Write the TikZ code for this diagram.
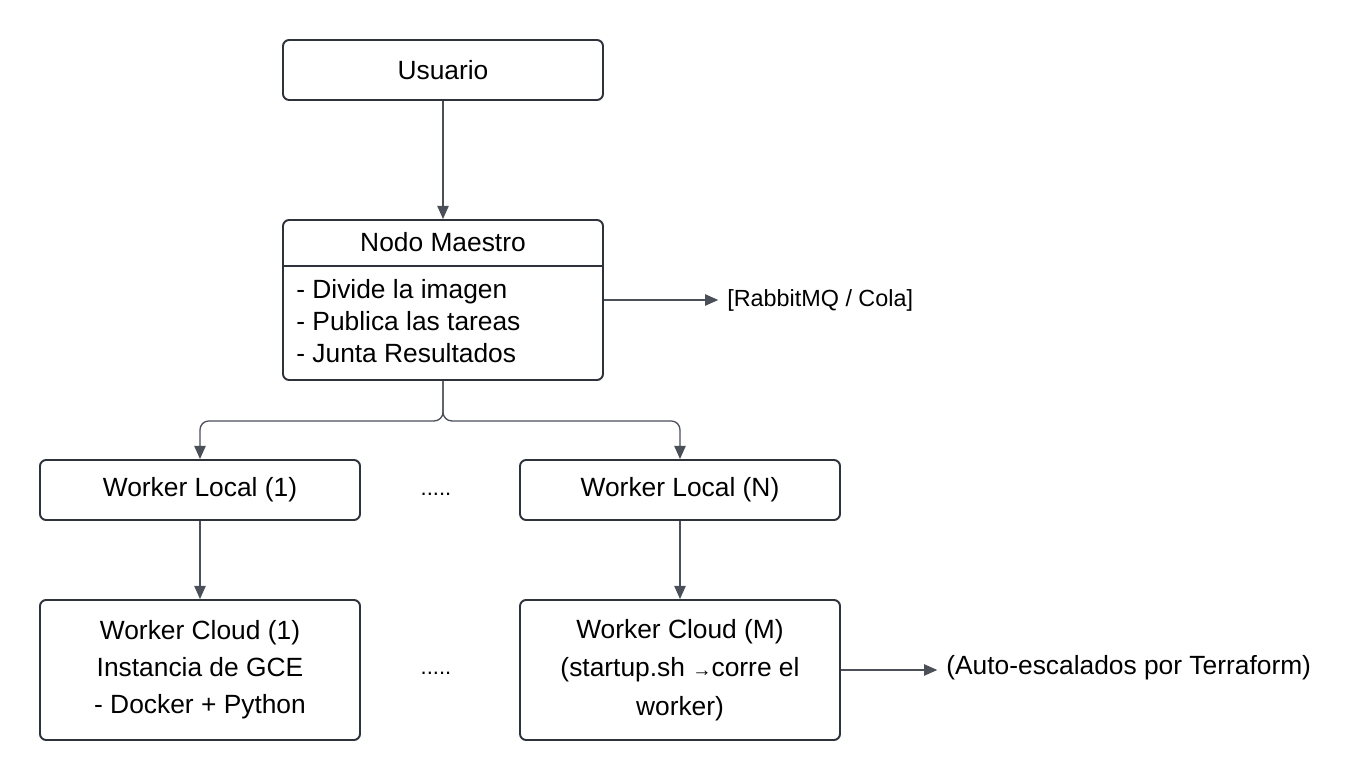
\documentclass[tikz,border=0pt]{standalone}
\usepackage{fontspec}
\setmainfont{Liberation Sans}
\usepackage{xcolor}
\usetikzlibrary{positioning,arrows.meta}
\definecolor{boxline}{HTML}{2E323A}
\definecolor{connline}{HTML}{4A4F58}

\begin{document}
\begin{tikzpicture}[x=0.02cm, y=-0.02cm,
    box/.style={draw=boxline, line width=1.1pt, rounded corners=3.5pt, fill=white,
      minimum width=320*0.02cm, minimum height=60*0.02cm, inner sep=0pt,
      font=\fontsize{15}{21}\selectfont, align=center},
    conn/.style={draw=connline, line width=0.75pt, -{Triangle[length=7.5pt,width=6.5pt]}},
    note/.style={anchor=west, inner sep=0pt, font=\fontsize{15}{18}\selectfont}]
    \useasboundingbox (0,0) rectangle (1360,780);

    \coordinate (U) at (443, 70);
    \coordinate (M) at (443, 300);
    \coordinate (L1) at (200, 490);
    \coordinate (LN) at (680, 490);
    \coordinate (C1) at (200, 670);
    \coordinate (CM) at (680, 670);

    \node [box] (usuario) at (U) {Usuario};

    \node [box, minimum height=160*0.02cm] (maestro) at (M) {};
    \node [inner sep=0pt, font=\fontsize{15}{18}\selectfont] (maestrotitle) at (443, 242) {Nodo Maestro};
    \draw [boxline, line width=1.1pt] ([yshift=-47*0.02cm]maestro.north west) to ([yshift=-47*0.02cm]maestro.north east);
    \node [note, align=left, font=\fontsize{15}{18.2}\selectfont] (maestrolist) at (296, 321)
      {- Divide la imagen\\- Publica las tareas\\- Junta Resultados};

    \node [box] (local1) at (L1) {Worker Local (1)};
    \node [box] (localN) at (LN) {Worker Local (N)};
    \node [font=\fontsize{12.5}{12}\selectfont] (dotslocal) at (436, 494) {.....};

    \node [box, minimum height=140*0.02cm] (cloud1) at (C1)
      {Worker Cloud (1)\\Instancia de GCE\\- Docker + Python};
    \node [box, minimum height=140*0.02cm, font=\fontsize{15}{22}\selectfont] (cloudM) at (CM)
      {Worker Cloud (M)\\(startup.sh {\fontsize{11}{10}\selectfont→}corre el\\worker)};
    \node [font=\fontsize{12.5}{12}\selectfont] (dotscloud) at (436, 673) {.....};

    \node [note, font=\fontsize{13.3}{16}\selectfont] (rabbit) at (727, 300) {[RabbitMQ / Cola]};
    \node [note] (terraform) at (946, 668) {(Auto-escalados por Terraform)};

    \draw [conn] (usuario) to (maestro);
    \draw [conn, rounded corners=5pt] (maestro.south) -- ++(0,40) -| (local1.north);
    \draw [conn, rounded corners=5pt] (maestro.south) -- ++(0,40) -| (localN.north);
    \draw [conn] (local1) to (cloud1);
    \draw [conn] (localN) to (cloudM);
    \draw [conn] (maestro.east |- rabbit.west) to ([xshift=-5pt]rabbit.west);
    \draw [conn] (cloudM.east) to ([xshift=-5pt]terraform.west |- cloudM.east);
\end{tikzpicture}
\end{document}
